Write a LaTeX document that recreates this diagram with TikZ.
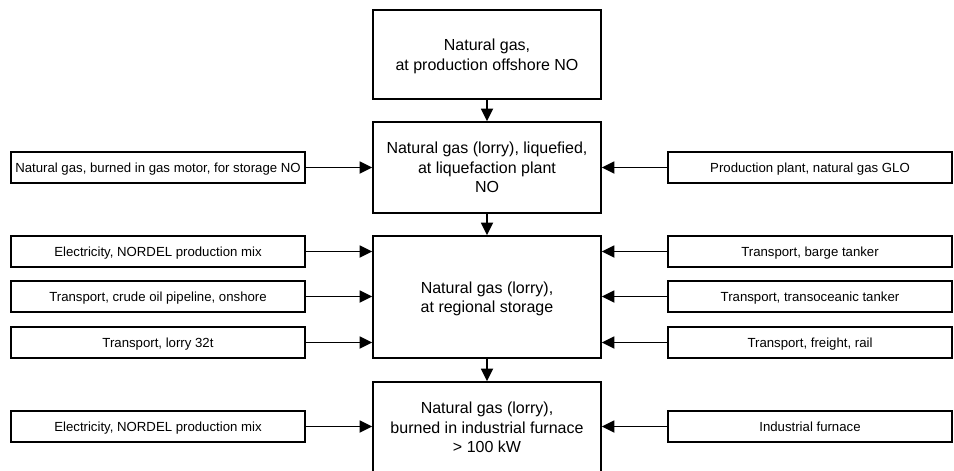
\documentclass[tikz,border=0pt]{standalone}
\usepackage{fontspec}
\setmainfont{Liberation Sans}
\usetikzlibrary{arrows.meta}
\begin{document}
\begin{tikzpicture}[x=1pt,y=-1pt,
  process/.style={draw,line width=1.8pt,inner sep=0pt,minimum width=228pt,
    align=center,text depth=0pt,font=\fontsize{16}{19.5}\selectfont},
  leftin/.style={draw,line width=1.8pt,inner sep=0pt,minimum width=294pt,
    minimum height=31pt,text height=9.6pt,text depth=0pt,
    font=\fontsize{13.2}{15}\selectfont},
  rightin/.style={leftin,minimum width=284pt},
  flow/.style={line width=1.8pt,-{Triangle[length=12.5pt,width=12pt]}}]
\useasboundingbox (0,0) rectangle (954,471);
% main chain
\node[process,minimum height=89pt] (p1) at (487,54.5) {Natural gas,\\ at production offshore NO};
\node[process,minimum height=91pt] (p2) at (487,167.5) {Natural gas (lorry), liquefied,\\ at liquefaction plant\\ NO};
\node[process,minimum height=122pt] (p3) at (487,297) {Natural gas (lorry),\\ at regional storage};
\node[process,minimum height=91pt] (p4) at (487,427.5) {Natural gas (lorry),\\ burned in industrial furnace\\ {>} 100 kW};
\draw[flow] (p1) -- (p2);
\draw[flow] (p2) -- (p3);
\draw[flow] (p3) -- (p4);
% inputs on the left
\node[leftin] (l1) at (158,167.5) {Natural gas, burned in gas motor, for storage NO};
\node[leftin] (l2) at (158,251.5) {Electricity, NORDEL production mix};
\node[leftin] (l3) at (158,296.5) {Transport, crude oil pipeline, onshore};
\node[leftin] (l4) at (158,342.5) {Transport, lorry 32t};
\node[leftin] (l5) at (158,426.5) {Electricity, NORDEL production mix};
% inputs on the right
\node[rightin] (r1) at (810,167.5) {Production plant, natural gas GLO};
\node[rightin] (r2) at (810,251.5) {Transport, barge tanker};
\node[rightin] (r3) at (810,296.5) {Transport, transoceanic tanker};
\node[rightin] (r4) at (810,342.5) {Transport, freight, rail};
\node[rightin] (r5) at (810,426.5) {Industrial furnace};
\draw[flow] (l1) -- (p2.west |- l1);
\draw[flow] (r1) -- (p2.east |- r1);
\foreach \i in {2,3,4} {
  \draw[flow] (l\i) -- (p3.west |- l\i);
  \draw[flow] (r\i) -- (p3.east |- r\i);
}
\draw[flow] (l5) -- (p4.west |- l5);
\draw[flow] (r5) -- (p4.east |- r5);
\end{tikzpicture}
\end{document}
